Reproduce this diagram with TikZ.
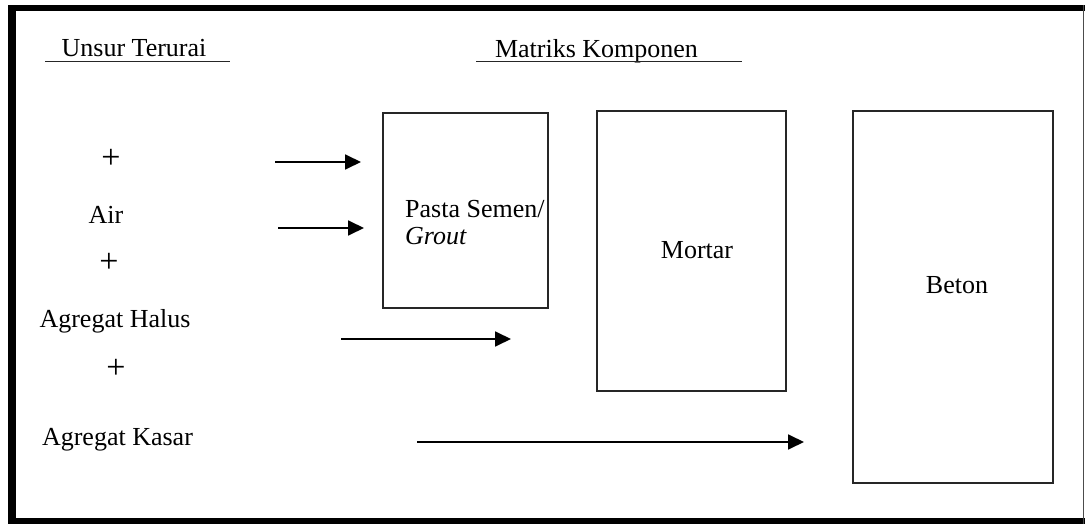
\documentclass[tikz,border=0pt]{standalone}
\usepackage{fontspec}
\setmainfont{Liberation Serif}
\usetikzlibrary{arrows.meta}
\begin{document}
\begin{tikzpicture}[x=1pt,y=-1pt,
  lbl/.style={font=\fontsize{26}{31}\selectfont, inner sep=0pt, anchor=base},
  plus/.style={font=\fontsize{34}{40}\selectfont, inner sep=0pt, anchor=center},
  box/.style={draw=black!85, line width=1.8pt, inner sep=0pt},
  arr/.style={-{Triangle[length=16pt,width=15pt]}, line width=1.8pt},
  uline/.style={line width=1.8pt, black!85},
  frame/.style={fill=black}]
\useasboundingbox (0,0) rectangle (1085,524);
% frame
\fill[frame] (8,5) rectangle (15.5,524);
\fill[frame] (8,5) rectangle (1085,11.5);
\fill[frame] (8,518) rectangle (1085,524);
\draw[line width=1.5pt, black!70] (1083.5,5) -- (1083.5,524);
% headings
\node[lbl] (unsur) at (134,57) {Unsur Terurai};
\node[lbl] (matriks) at (596.5,58) {Matriks Komponen};
\coordinate (ua) at (45,61.5);
\coordinate (ub) at (230,61.5);
\coordinate (ma) at (476,61.5);
\coordinate (mb) at (742,61.5);
\draw[uline] (ua) -- (ub);
\draw[uline] (ma) -- (mb);
% left column
\node[plus] (p1) at (111,158.5) {+};
\node[lbl] (air) at (106,223) {Air};
\node[plus] (p2) at (109,263) {+};
\node[lbl] (halus) at (115,327) {Agregat Halus};
\node[plus] (p3) at (116,369) {+};
\node[lbl] (kasar) at (117.5,445) {Agregat Kasar};
% boxes
\node[box, minimum width=165pt, minimum height=195pt] (pasta) at (465.5,210.5) {};
\node[box, minimum width=189pt, minimum height=280pt] (mortar) at (691.5,251) {};
\node[box, minimum width=200pt, minimum height=372pt] (beton) at (953,297) {};
\node[lbl, anchor=base west] (pastatxt) at (405,218) {Pasta Semen/};
\node[lbl, anchor=base west] (grout) at (405,244) {\itshape Grout};
\node[lbl] (mortartxt) at (697,258) {Mortar};
\node[lbl] (betontxt) at (957,293) {Beton};
% arrows
\coordinate (a1s) at (275,162);
\coordinate (a1e) at (361,162);
\coordinate (a2s) at (278,228);
\coordinate (a2e) at (364,228);
\coordinate (a3s) at (341,339);
\coordinate (a3e) at (511,339);
\coordinate (a4s) at (417,442);
\coordinate (a4e) at (804,442);
\draw[arr] (a1s) -- (a1e);
\draw[arr] (a2s) -- (a2e);
\draw[arr] (a3s) -- (a3e);
\draw[arr] (a4s) -- (a4e);
\end{tikzpicture}
\end{document}
